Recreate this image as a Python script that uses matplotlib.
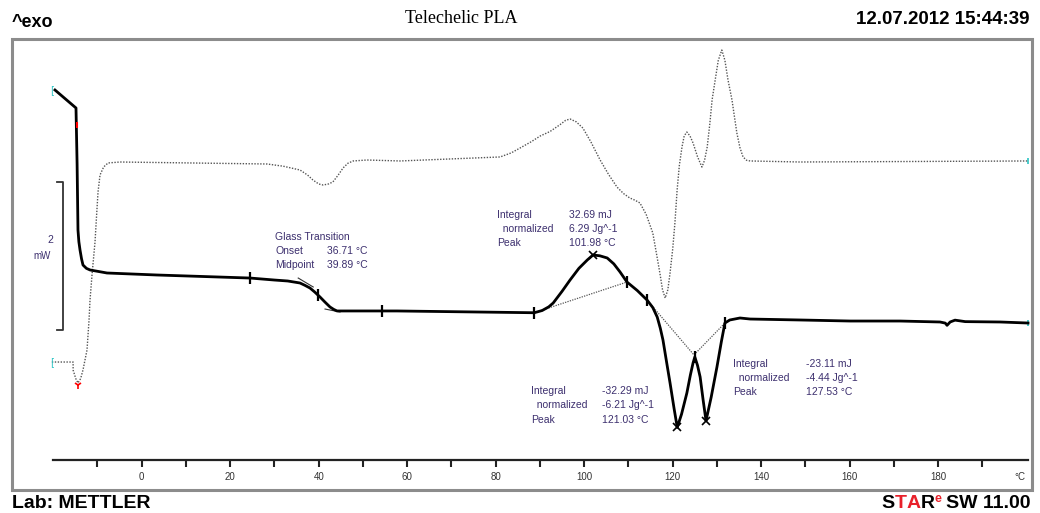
import numpy as np
import matplotlib
matplotlib.use("Agg")
import matplotlib.pyplot as plt
from matplotlib.patches import Rectangle

# ---------------- data (temperature in degC, heat flow in mW, arbitrary offset) -------------
solid_T = [-19.6, -14.85, -14.6, -14.4, -14.2, -13.94, -13.6, -13.27, -12.5, -11.68, -7.84, 3.46,
           24.48, 30.0, 33.0, 35.77, 36.9, 38.03, 39.1, 40.29, 41.4, 42.55, 43.4, 44.14, 57.69, 88.7,
           90.5, 92.0, 93.0, 95.0, 96.8, 98.8, 100.7, 101.98, 103.5, 105.2, 106.7, 108.1,
           109.67, 112.0, 114.2, 115.5, 116.5, 117.2, 117.8, 118.6, 119.4, 120.3, 121.03,
           122.0, 123.2, 124.0, 124.6, 125.0, 125.6, 126.2, 126.9, 127.53, 128.7, 130.0,
           131.0, 131.8, 132.9, 135.2, 137.5, 148.8, 160.1, 171.4, 180.4, 181.6, 182.0,
           182.7, 183.8, 186.1, 194.0, 200.3]
solid_mW = [5.0, 4.757, 4.0, 3.108, 2.95, 2.838, 2.72, 2.635, 2.59, 2.568, 2.527, 2.5,
            2.459, 2.432, 2.419, 2.392, 2.36, 2.324, 2.27, 2.203, 2.135, 2.068, 2.035, 2.014, 2.014, 1.99,
            2.02, 2.07, 2.122, 2.28, 2.432, 2.59, 2.703, 2.77, 2.76, 2.73, 2.65, 2.541,
            2.405, 2.29, 2.162, 2.06, 1.932, 1.78, 1.622, 1.33, 1.041, 0.70, 0.44,
            0.62, 0.905, 1.15, 1.311, 1.392, 1.28, 1.122, 0.80, 0.53, 0.85, 1.257,
            1.6, 1.851, 1.892, 1.919, 1.905, 1.892, 1.878, 1.878, 1.865, 1.85, 1.82,
            1.865, 1.89, 1.87, 1.865, 1.851]

dotted_T = [-20.3, -15.5, -15.5, -14.9, -14.4, -13.8, -13.27, -12.36, -11.9, -11.68, -11.23,
            -10.55, -10.2, -9.87, -9.42, -8.6, -7.6, -4.9, 28.36, 32.0, 35.77, 37.5, 38.7, 40.0,
            41.0, 42.2, 43.2, 44.4, 45.5, 46.6, 47.8, 50.9, 58.4, 80.99, 83.5, 85.5, 88.0, 90.05,
            92.3, 94.5, 95.8, 96.8, 98.2, 99.7, 101.5, 103.6, 105.5, 107.4, 108.9, 110.3, 111.5,
            112.6, 114.0, 115.5, 116.3, 117.1, 117.7, 118.3, 118.9, 119.4, 120.0, 120.5, 121.0,
            121.5, 122.1, 122.6, 123.2, 123.9, 124.6, 125.6, 126.6, 127.2, 127.8, 128.4, 128.9,
            129.6, 130.3, 131.1, 131.8, 132.5, 133.4, 134.0, 134.5, 135.2, 135.9, 136.7, 137.5,
            148.8, 200.3]
dotted_mW = [1.324, 1.324, 1.216, 1.10, 1.041, 1.10, 1.216, 1.486, 1.892, 2.162, 2.5,
             2.946, 3.3, 3.622, 3.851, 3.96, 4.014, 4.027, 4.0, 3.97, 3.919, 3.85, 3.784, 3.73,
             3.716, 3.73, 3.757, 3.85, 3.946, 4.01, 4.041, 4.054, 4.041, 4.095, 4.15, 4.216, 4.30, 4.378,
             4.44, 4.53, 4.59, 4.608, 4.57, 4.486, 4.30, 4.054, 3.86, 3.689, 3.60, 3.541, 3.51,
             3.473, 3.32, 3.068, 2.80, 2.527, 2.30, 2.189, 2.30, 2.527, 2.85, 3.203, 3.649,
             3.98, 4.23, 4.38, 4.432, 4.38, 4.284, 4.10, 3.959, 4.05, 4.23, 4.55, 4.865,
             5.135, 5.40, 5.54, 5.40, 5.135, 4.865, 4.62, 4.419, 4.22, 4.095, 4.05, 4.041,
             4.027, 4.041]

# evaluation limits / tangents / baselines
limit_T = [24.48, 39.84, 54.3, 88.7, 109.67, 114.2, 125.0, 131.8]
peak_T = [101.98, 121.03, 127.53]
tg_tan1_T, tg_tan1_mW = [35.37, 38.76], [2.459, 2.338]
tg_tan2_T, tg_tan2_mW = [41.43, 44.82], [2.04, 2.0]
base1_T, base1_mW = [88.7, 109.67], [1.99, 2.405]
base2_T, base2_mW = [114.2, 124.8, 131.8], [2.162, 1.42, 1.851]

scale_mW = 2.0
xtick_major = list(range(0, 181, 20))
xtick_minor = list(range(-10, 191, 20))

glass_labels = ["Glass Transition", "Onset", "Midpoint"]
glass_values = ["", "36.71 \u00b0C", "39.89 \u00b0C"]
res_labels = ["Integral", "  normalized", "Peak"]
res1_values = ["32.69 mJ", "6.29 Jg^-1", "101.98 \u00b0C"]
res2_values = ["-32.29 mJ", "-6.21 Jg^-1", "121.03 \u00b0C"]
res3_values = ["-23.11 mJ", "-4.44 Jg^-1", "127.53 \u00b0C"]

# ---------------- figure ----------------
W, H = 1040, 513
fig = plt.figure(figsize=(W / 100, H / 100), dpi=100)
FL, FR, FT, FB = 12, 1032, 39, 490
ax = fig.add_axes([FL / W, 1 - FB / H, (FR - FL) / W, (FB - FT) / H])
X0, SX, Y0, SY = 141.7, 4.425, 460.0, 74.0
ax.set_xlim((FL - X0) / SX, (FR - X0) / SX)
ax.set_ylim((Y0 - FB) / SY, (Y0 - FT) / SY)


def d(x, y):
    """pixel layout position -> data coordinates"""
    return ((x - X0) / SX, (Y0 - y) / SY)


sans = ["Liberation Sans", "DejaVu Sans"]
tcol = "#3c2f6e"

for s in ["top", "left", "right"]:
    ax.spines[s].set_visible(False)
ax.spines["bottom"].set_position(("data", 0))
ax.spines["bottom"].set_bounds(-20, 200.3)
ax.spines["bottom"].set_linewidth(1.6)
ax.spines["bottom"].set_color("#222222")
ax.set_yticks([])
ax.set_xticks(xtick_major)
ax.set_xticks(xtick_minor, minor=True)
ax.set_xticklabels([str(v) for v in xtick_major], fontsize=7, family=sans, color="#333333")
ax.tick_params(axis="x", which="both", direction="out", length=5, width=1.5,
               color="#222222", pad=4)
ax.text(*d(1020, 477), "\u00b0C", fontsize=7, family=sans, color="#333333",
        ha="center", va="center")

ax.add_patch(Rectangle((0, 0), 1, 1, transform=ax.transAxes, fill=False,
                       ec="#8c8c8c", lw=2.2, clip_on=False, zorder=0))

# curves
ax.plot(dotted_T, dotted_mW, color="#555555", lw=1.0, ls=(0, (1, 1.1)))
ax.plot(solid_T, solid_mW, color="black", lw=2.0, solid_joinstyle="round", zorder=3)

# baselines and tangents
for bt, bm in [(base1_T, base1_mW), (base2_T, base2_mW)]:
    ax.plot(bt, bm, color="#555555", lw=0.9, ls=(0, (1, 1)), zorder=2)
for bt, bm in [(tg_tan1_T, tg_tan1_mW), (tg_tan2_T, tg_tan2_mW)]:
    ax.plot(bt, bm, color="#333333", lw=0.8, zorder=2)

# markers on the curve
ax.plot(limit_T, np.interp(limit_T, solid_T, solid_mW), ls="none", marker="|",
        ms=8, mew=1.6, color="black", zorder=4)
ax.plot(peak_T, np.interp(peak_T, solid_T, solid_mW), ls="none", marker="x",
        ms=6, mew=1.2, color="black", zorder=4)

# red and cyan end marks
ax.plot([solid_T[2]], [4.527], marker="|", ms=5, mew=1.5, color="red", zorder=5)
ax.plot([dotted_T[4]], [dotted_mW[4] - 0.03], marker="1", ms=6, mew=1.2, color="red", zorder=5)
ax.text(solid_T[0] - 0.7, solid_mW[0], "[", color="#2cc4c4", fontsize=7, ha="center", va="center")
ax.text(dotted_T[0], dotted_mW[0], "[", color="#2cc4c4", fontsize=7, ha="center", va="center")
ax.plot([dotted_T[-1]], [dotted_mW[-1]], marker="|", ms=5, mew=1.2, color="#2cc4c4")
ax.plot([solid_T[-1]], [solid_mW[-1]], marker="|", ms=5, mew=1.2, color="#2cc4c4")

# scale bar (2 mW)
sb_x, sb_top = d(63, 182)
sb_l, _ = d(57, 182)
ax.plot([sb_l, sb_x, sb_x, sb_l], [sb_top, sb_top, sb_top - scale_mW, sb_top - scale_mW],
        color="#333333", lw=1.3)
ax.text(*d(50, 240), "2", fontsize=7.5, family=sans, color=tcol, ha="center", va="center")
ax.text(*d(42, 256), "mW", fontsize=7, family=sans, color=tcol, ha="center", va="center")


# annotation blocks
def block(x_lab, x_val, ys, labels, values):
    for yy, lab, val in zip(ys, labels, values):
        ax.text(*d(x_lab, yy), lab, fontsize=7.5, family=sans, color=tcol, va="center", ha="left")
        if val:
            ax.text(*d(x_val, yy), val, fontsize=7.5, family=sans, color=tcol, va="center", ha="left")


block(275, 327, [237, 251, 265], glass_labels, glass_values)
block(497, 569, [215, 229, 243], res_labels, res1_values)
block(531, 602, [391, 405, 420], res_labels, res2_values)
block(733, 806, [364, 378, 392], res_labels, res3_values)

# header / footer
fig.text(12 / W, 1 - 23 / H, "^exo", fontsize=13, fontweight="bold", family=sans, ha="left", va="center")
fig.text(461 / W, 1 - 19 / H, "Telechelic PLA", fontsize=13, family=["Liberation Serif", "DejaVu Serif"],
         ha="center", va="center")
fig.text(1030 / W, 1 - 20 / H, "12.07.2012 15:44:39", fontsize=13.5, fontweight="bold", family=sans,
         ha="right", va="center")
fig.text(12 / W, 1 - 504 / H, "Lab: METTLER", fontsize=14, fontweight="bold", family=sans,
         ha="left", va="center")

# "STAR^e SW 11.00", built right to left on a common baseline
sw = fig.text(1030 / W, 1 - 504 / H, "SW 11.00", fontsize=14, fontweight="bold", family=sans,
              color="black", ha="right", va="center")
sup = ax.annotate("e ", xy=(0, 0.45), xycoords=sw, ha="right", va="bottom", fontsize=9,
                  fontweight="bold", family=sans, color="#e8202a", annotation_clip=False)
prev = sup
for txt, col in [("R", "black"), ("A", "#e8202a"), ("T", "#e8202a"), ("S", "black")]:
    prev = ax.annotate(txt, xy=(0, 0), xycoords=(prev, sw), ha="right", va="bottom",
                       fontsize=14, fontweight="bold", family=sans, color=col,
                       annotation_clip=False)

fig.savefig("out.png", dpi=100)
